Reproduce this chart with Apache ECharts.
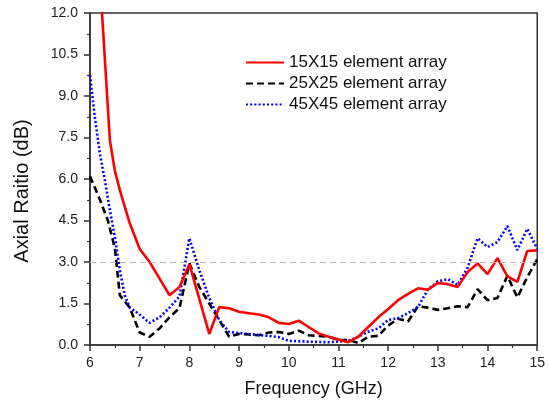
<!DOCTYPE html>
<html>
<head>
<meta charset="utf-8">
<script src="https://cdn.jsdelivr.net/npm/echarts@6/dist/echarts.min.js"></script>
<style>
html,body{margin:0;padding:0;background:#fff;}
#chart{width:548px;height:407px;}
</style>
</head>
<body>
<div id="chart"></div>
<script>
// ---- data ----
var seriesNames = ['15X15 element array', '25X25 element array', '45X45 element array'];

var freq15 = [6.2, 6.4, 6.5, 6.6, 6.8, 7.0, 7.2, 7.4, 7.6, 7.8, 8.0, 8.4, 8.6, 8.8, 9.0, 9.2, 9.4, 9.6, 9.8, 10.0, 10.2, 10.4, 10.6, 10.8, 11.0, 11.2, 11.4, 11.6, 11.8, 12.0, 12.2, 12.4, 12.6, 12.8, 13.0, 13.2, 13.4, 13.6, 13.8, 14.0, 14.2, 14.4, 14.6, 14.8, 15.0];
var ar15   = [13.2, 7.4, 6.3, 5.6, 4.4, 3.47, 3.0, 2.4, 1.8, 2.1, 2.92, 0.4, 1.37, 1.33, 1.2, 1.15, 1.1, 1.0, 0.8, 0.76, 0.88, 0.65, 0.42, 0.3, 0.2, 0.1, 0.3, 0.65, 1.0, 1.3, 1.62, 1.85, 2.05, 2.0, 2.24, 2.2, 2.1, 2.64, 2.95, 2.56, 3.14, 2.48, 2.28, 3.4, 3.42];

var freq25 = [6.0, 6.2, 6.36, 6.5, 6.6, 6.8, 7.0, 7.2, 7.4, 7.6, 7.8, 8.0, 8.2, 8.4, 8.6, 8.8, 9.0, 9.2, 9.4, 9.6, 9.8, 10.0, 10.2, 10.4, 10.6, 10.8, 11.0, 11.2, 11.4, 11.6, 11.8, 12.0, 12.2, 12.4, 12.6, 12.8, 13.0, 13.2, 13.4, 13.6, 13.8, 14.0, 14.2, 14.4, 14.6, 14.8, 15.0];
var ar25   = [6.1, 5.25, 4.5, 3.5, 1.8, 1.35, 0.45, 0.3, 0.6, 1.0, 1.33, 2.95, 2.1, 1.5, 0.9, 0.3, 0.4, 0.38, 0.35, 0.45, 0.47, 0.4, 0.52, 0.35, 0.33, 0.3, 0.18, 0.18, 0.07, 0.3, 0.33, 0.7, 0.95, 0.85, 1.4, 1.35, 1.27, 1.33, 1.4, 1.37, 2.02, 1.62, 1.7, 2.5, 1.72, 2.45, 3.1];

var freq45 = [6.0, 6.1, 6.2, 6.3, 6.4, 6.5, 6.6, 6.7, 6.8, 7.0, 7.2, 7.4, 7.6, 7.8, 8.0, 8.2, 8.4, 8.6, 8.8, 9.0, 9.2, 9.4, 9.6, 9.8, 10.0, 10.4, 10.8, 11.2, 11.4, 11.6, 11.8, 12.0, 12.2, 12.4, 12.6, 12.8, 13.0, 13.2, 13.4, 13.6, 13.8, 14.0, 14.2, 14.4, 14.6, 14.8, 15.0];
var ar45   = [9.75, 8.2, 6.9, 5.95, 4.87, 3.9, 2.7, 1.8, 1.35, 1.1, 0.8, 1.0, 1.35, 1.75, 3.86, 2.7, 1.7, 0.9, 0.47, 0.43, 0.4, 0.36, 0.33, 0.28, 0.15, 0.12, 0.1, 0.15, 0.3, 0.48, 0.6, 0.9, 0.97, 1.15, 1.37, 2.0, 2.3, 2.38, 2.17, 2.8, 3.86, 3.54, 3.72, 4.3, 3.43, 4.2, 3.47];

var refLevel = 3.0;

function zip(xs, ys){ return xs.map(function(x,i){ return [x, ys[i]]; }); }

var FONT = '"Liberation Sans", Arial, sans-serif';
var chart = echarts.init(document.getElementById('chart'), null, {renderer:'canvas'});
chart.setOption({
  animation:false,
  backgroundColor:'#fff',
  textStyle:{fontFamily:FONT},
  grid:{left:90, right:7, top:13, bottom:62, show:true, borderColor:'#333', borderWidth:1.5, backgroundColor:'transparent'},
  legend:{
    orient:'vertical', left:240, top:49, itemWidth:38, itemHeight:14, itemGap:4,
    itemStyle:{opacity:0},
    textStyle:{fontFamily:FONT, fontSize:17, color:'#111'},
    data:seriesNames
  },
  xAxis:{
    type:'value', min:6, max:15, interval:1,
    name:'Frequency (GHz)', nameLocation:'middle', nameGap:35,
    nameTextStyle:{fontFamily:FONT, fontSize:18, color:'#111'},
    axisLine:{show:true, onZero:false, lineStyle:{color:'#333', width:1.5}},
    axisTick:{show:true, inside:false, length:6, lineStyle:{color:'#333', width:1.5}},
    minorTick:{show:true, splitNumber:2, length:3, lineStyle:{color:'#333', width:1.2}},
    axisLabel:{fontFamily:FONT, fontSize:14, color:'#222', margin:11},
    splitLine:{show:false}
  },
  yAxis:{
    type:'value', min:0, max:12, interval:1.5,
    name:'Axial Raitio (dB)', nameLocation:'middle', nameGap:58, nameRotate:90,
    nameTextStyle:{fontFamily:FONT, fontSize:20, color:'#111', padding:[0,24,0,0]},
    axisLine:{show:true, onZero:false, lineStyle:{color:'#333', width:1.5}},
    axisTick:{show:true, inside:false, length:6, lineStyle:{color:'#333', width:1.5}},
    minorTick:{show:true, splitNumber:2, length:3, lineStyle:{color:'#333', width:1.2}},
    axisLabel:{fontFamily:FONT, fontSize:14, color:'#222', margin:12, formatter:function(v){return v.toFixed(1);}},
    splitLine:{show:false}
  },
  series:[
    {
      name:seriesNames[0], type:'line', data:zip(freq15, ar15), symbol:'none', clip:true,
      lineStyle:{color:'#ff0000', width:2.6, type:'solid'}, itemStyle:{color:'#ff0000'}, z:3,
      markLine:{
        silent:true, symbol:['none','none'], label:{show:false},
        lineStyle:{color:'#bbbbbb', type:[6,4], width:1},
        data:[{yAxis:refLevel}]
      }
    },
    {
      name:seriesNames[1], type:'line', data:zip(freq25, ar25), symbol:'none', clip:true,
      lineStyle:{color:'#000000', width:2.6, type:[7,4]}, itemStyle:{color:'#000000'}, z:2
    },
    {
      name:seriesNames[2], type:'line', data:zip(freq45, ar45), symbol:'none', clip:true,
      lineStyle:{color:'#0000ff', width:2.6, type:[2,2.2]}, itemStyle:{color:'#0000ff'}, z:2
    }
  ]
});
</script>
</body>
</html>
